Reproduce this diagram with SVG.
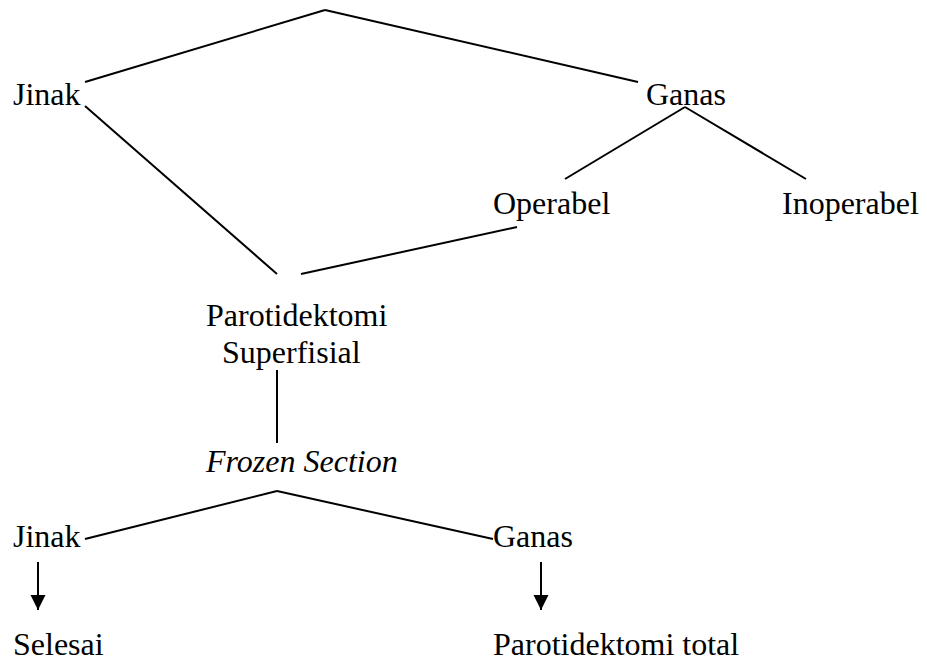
<svg xmlns="http://www.w3.org/2000/svg" width="927" height="661" viewBox="0 0 927 661">
<style>
text{font-family:"Liberation Serif","Times New Roman",serif;font-size:32px;fill:#000}
.it{font-style:italic}
line{stroke:#000;stroke-width:2;fill:none}
</style>
<defs>
<marker id="ah" markerWidth="16" markerHeight="16" refX="15" refY="7.5" orient="auto" markerUnits="userSpaceOnUse">
<path d="M0,0 L15,7.5 L0,15 Z" fill="#000"/>
</marker>
</defs>
<rect width="927" height="661" fill="#fff"/>
<g id="connectors">
<line x1="325" y1="10" x2="85" y2="82"/>
<line x1="325" y1="10" x2="638" y2="82"/>
<line x1="685" y1="107" x2="565" y2="179"/>
<line x1="685" y1="107" x2="806" y2="179"/>
<line x1="85" y1="106" x2="277" y2="274"/>
<line x1="517" y1="227" x2="301" y2="274"/>
<line x1="277" y1="370" x2="277" y2="443"/>
<line x1="277" y1="491" x2="85" y2="539"/>
<line x1="277" y1="491" x2="493" y2="539"/>
<line x1="38" y1="562" x2="38" y2="610" marker-end="url(#ah)"/>
<line x1="541" y1="562" x2="541" y2="610" marker-end="url(#ah)"/>
</g>
<g id="jinak1"><text x="13" y="105">Jinak</text></g>
<g id="ganas1"><text x="646" y="105">Ganas</text></g>
<g id="operabel"><text x="493" y="214">Operabel</text></g>
<g id="inoperabel"><text x="782" y="214">Inoperabel</text></g>
<g id="parotidektomi-superfisial"><text x="206" y="326">Parotidektomi</text><text x="222" y="363">Superfisial</text></g>
<g id="frozen-section"><text class="it" x="206" y="472">Frozen Section</text></g>
<g id="jinak2"><text x="13" y="547">Jinak</text></g>
<g id="ganas2"><text x="493" y="547">Ganas</text></g>
<g id="selesai"><text x="13" y="655">Selesai</text></g>
<g id="parotidektomi-total"><text x="493" y="655">Parotidektomi total</text></g>
</svg>
